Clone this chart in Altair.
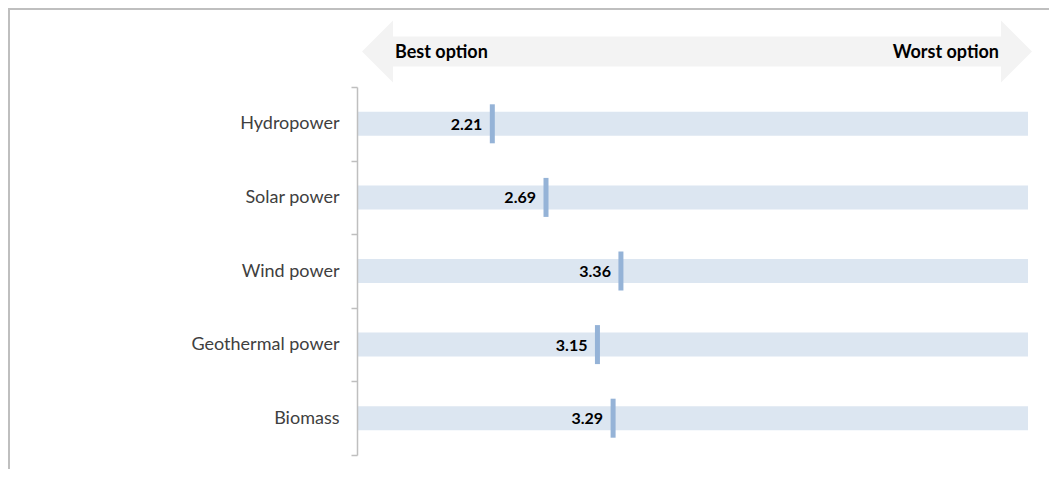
import altair as alt
import pandas as pd

categories = ["Hydropower", "Solar power", "Wind power", "Geothermal power", "Biomass"]
scores = [2.21, 2.69, 3.36, 3.15, 3.29]
scale_min, scale_max = 1, 7
arrow_labels = ["Best option", "Worst option"]

df = pd.DataFrame({"category": categories, "score": scores})

xs = alt.Scale(domain=[scale_min, scale_max], nice=False, zero=False)
y_enc = alt.Y(
    "category:N",
    sort=categories,
    scale=alt.Scale(paddingInner=0, paddingOuter=0),
    axis=alt.Axis(
        title=None,
        domainColor="#bfbfbf",
        domainWidth=1.5,
        tickColor="#bfbfbf",
        tickWidth=1.5,
        tickSize=6,
        tickBand="extent",
        labelFont="Lato",
        labelFontSize=18,
        labelColor="#404040",
        labelPadding=12,
        zindex=1,
    ),
)

base = alt.Chart(df)

bars = base.mark_bar(color="#dce6f1", size=24).encode(
    x=alt.XDatum(scale_min, type="quantitative", scale=xs, axis=None),
    x2=alt.X2Datum(scale_max),
    y=y_enc,
)

ticks = base.mark_tick(color="#95b3d7", thickness=5, size=39, opacity=1).encode(
    x=alt.X("score:Q", scale=xs, axis=None),
    y=y_enc,
)

labels = base.mark_text(
    align="right", baseline="middle", dx=-10, dy=1, font="Lato", fontSize=16,
    fontWeight="bold", color="black",
).encode(
    x=alt.X("score:Q", scale=xs, axis=None),
    y=y_enc,
    text=alt.Text("score:Q", format=".2f"),
)

one = pd.DataFrame({"k": [0]})

arrow_path = (
    "M -1 0 L -0.9075 -0.0925 L -0.9075 -0.0448 L 0.9075 -0.0448 "
    "L 0.9075 -0.0925 L 1 0 L 0.9075 0.0925 L 0.9075 0.0448 "
    "L -0.9075 0.0448 L -0.9075 0.0925 Z"
)
arrow = alt.Chart(one).mark_point(
    shape=arrow_path, size=670 * 670, filled=True, fill="#f3f3f3",
    opacity=1, strokeWidth=0,
).encode(x=alt.value(340), y=alt.value(-35.5))

best = alt.Chart(one).mark_text(
    align="left", baseline="middle", font="Lato", fontSize=18,
    fontWeight="bold", color="black", text=arrow_labels[0],
).encode(x=alt.value(38), y=alt.value(-34))

worst = alt.Chart(one).mark_text(
    align="right", baseline="middle", font="Lato", fontSize=18,
    fontWeight="bold", color="black", text=arrow_labels[1],
).encode(x=alt.value(642), y=alt.value(-34))

frame_top = alt.Chart(one).mark_rule(color="#bfbfbf", strokeWidth=2).encode(
    x=alt.value(-349), x2=alt.value(720), y=alt.value(-78)
)
frame_left = alt.Chart(one).mark_rule(color="#bfbfbf", strokeWidth=2).encode(
    x=alt.value(-348), y=alt.value(-79), y2=alt.value(420)
)

chart = alt.layer(
    frame_top, frame_left, arrow, best, worst, bars, ticks, labels
).properties(
    width=671,
    height=368,
    autosize=alt.AutoSizeParams(type="none"),
    padding={"left": 349, "top": 79, "right": 21, "bottom": 14},
    background="white",
).configure_view(stroke=None)

chart.save("out.html", embed_options={"renderer": "svg", "actions": False})
